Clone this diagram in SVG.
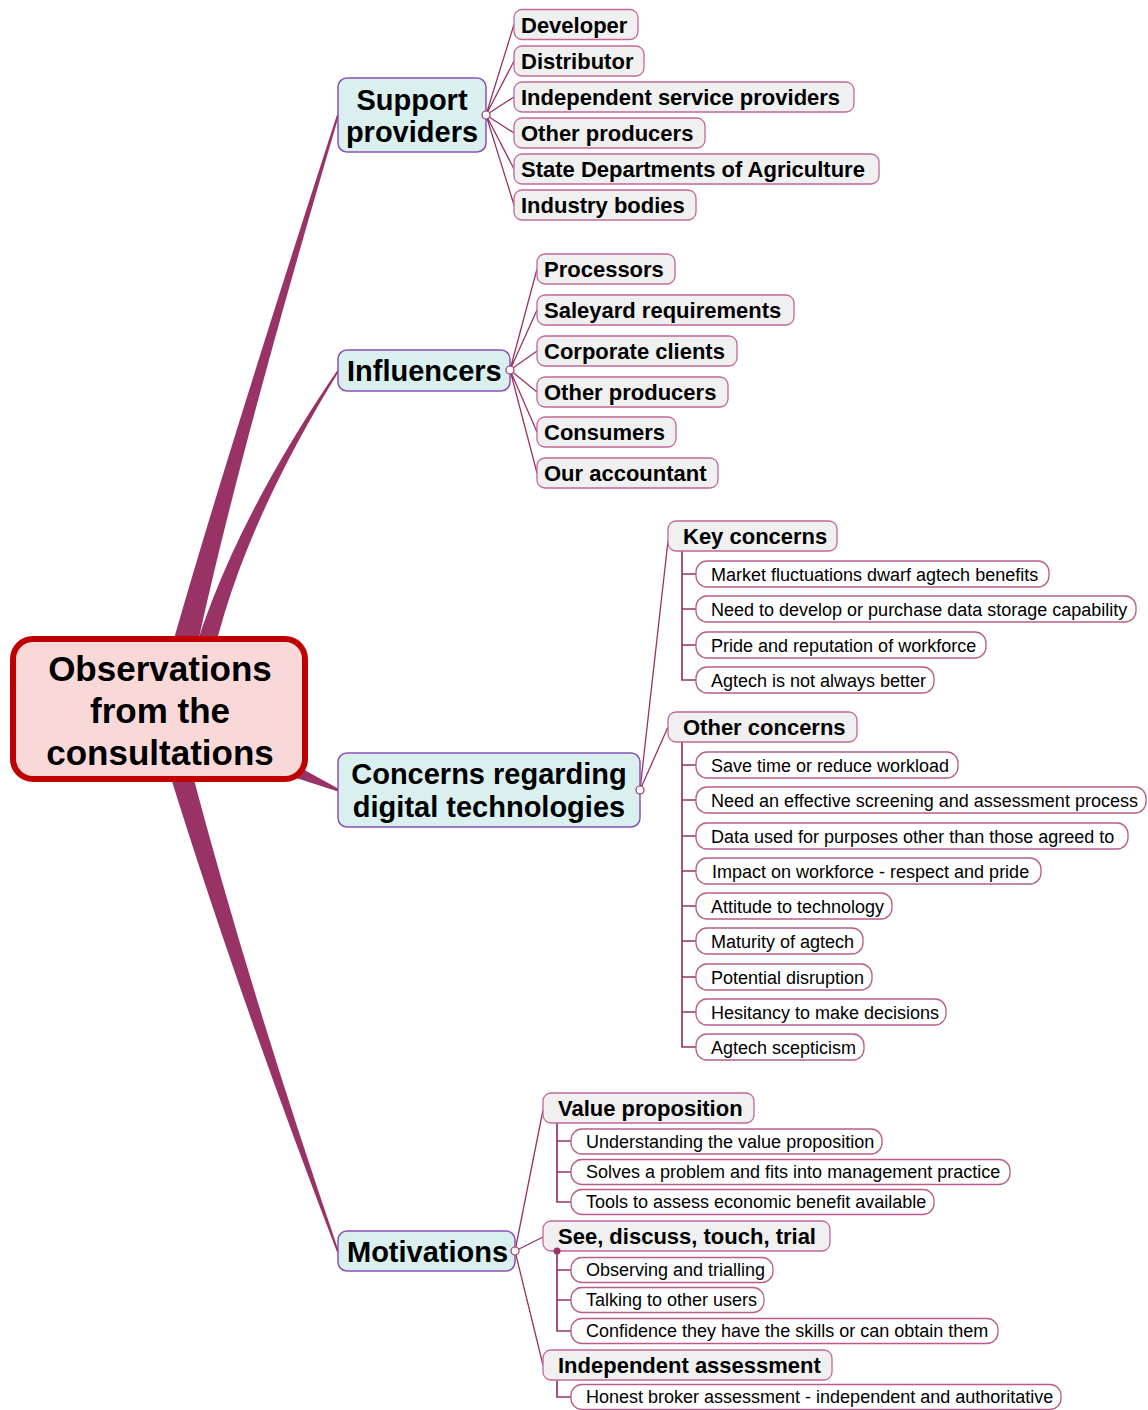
<svg xmlns="http://www.w3.org/2000/svg" width="1148" height="1410" viewBox="0 0 1148 1410">
  <style>
    text { font-family: "Liberation Sans", Arial, sans-serif; fill: #000; }
    .root rect { fill: #f9d9d8; stroke: #c00000; stroke-width: 6; }
    .root text { font-size: 35px; font-weight: bold; text-anchor: middle; }
    .l1 rect { fill: #d9f0ef; stroke: #8a52b4; stroke-width: 1.5; }
    .l1 text { font-size: 29px; font-weight: bold; }
    .l1 text.c { text-anchor: middle; }
    .l2 rect { fill: #f0f0f0; stroke: #c2679a; stroke-width: 1.3; }
    .l2 text { font-size: 22px; font-weight: bold; }
    .l3 rect { fill: #ffffff; stroke: #b85d8a; stroke-width: 1.3; }
    .l3 text { font-size: 18px; }
    .branch { fill: #993366; }
    .link { fill: none; stroke: #993366; stroke-width: 1.3; }
    .tree { fill: none; stroke: #993366; stroke-width: 1.7; }
    .knob { fill: #ffffff; stroke: #993366; stroke-width: 1.2; }
    .dot { fill: #993366; }
  </style>

  <!-- connectors -->
  <g id="connectors">
    <!-- tapered main branches -->
    <path class="branch" d="M167.4,661.9 Q219.2,478.3 337,114.7 L339,115.3 Q230.8,481.7 192.6,668.1 Z"/>
    <path class="branch" d="M184.2,687.8 Q220,542.75 337.2,370.5 L338.8,371.5 Q230,547.25 205.8,692.2 Z"/>
    <path class="branch" d="M290,762 L338,788.5 L338,791.5 L290,776 Z"/>
    <path class="branch" d="M190.6,767 Q248.7,988.1 338.9,1251.7 L337.1,1252.3 Q237.3,991.9 169.4,773 Z"/>

    <!-- Support providers fan -->
    <path class="link" d="M486,115 L514,24.5 M486,115 L514,61 M486,115 L514,97 M486,115 L514,133 M486,115 L514,169 M486,115 L514,205"/>
    <!-- Influencers fan -->
    <path class="link" d="M510,370 L537,269 M510,370 L537,310 M510,370 L537,351 M510,370 L537,392 M510,370 L537,432 M510,370 L537,473"/>
    <!-- Concerns fan -->
    <path class="link" d="M640,790 L668,541 M640,790 L668,727"/>
    <!-- Motivations fan -->
    <path class="link" d="M515,1251 L543,1110 M515,1251 L543,1237 M515,1251 L543,1365"/>

    <!-- sub-topic trees -->
    <path class="tree" d="M682,551 V680 H696 M682,574 H696 M682,609 H696 M682,645 H696"/>
    <path class="tree" d="M682,742 V1047 H696 M682,765 H696 M682,800 H696 M682,836 H696 M682,871 H696 M682,906 H696 M682,941 H696 M682,977 H696 M682,1012 H696"/>
    <path class="tree" d="M557,1123 V1202 H571 M557,1141 H571 M557,1172 H571"/>
    <path class="tree" d="M557,1251 V1331 H571 M557,1270 H571 M557,1300 H571"/>
    <path class="tree" d="M557,1380 V1397 H571"/>
  </g>

  <!-- central topic -->
  <g id="root" class="root">
    <rect x="13" y="639" width="292" height="140" rx="20"/>
    <text x="160" y="681">Observations</text>
    <text x="160" y="723">from the</text>
    <text x="160" y="765">consultations</text>
  </g>

  <!-- main topics -->
  <g id="support" class="l1">
    <rect x="338" y="78" width="148" height="74" rx="9"/>
    <text class="c" x="412" y="110">Support</text>
    <text class="c" x="412" y="142">providers</text>
  </g>
  <g id="influencers" class="l1">
    <rect x="338" y="350" width="172" height="41" rx="9"/>
    <text x="347" y="381">Influencers</text>
  </g>
  <g id="concerns" class="l1">
    <rect x="338" y="753" width="302" height="74" rx="9"/>
    <text class="c" x="489" y="784">Concerns regarding</text>
    <text class="c" x="489" y="817">digital technologies</text>
  </g>
  <g id="motivations" class="l1">
    <rect x="338" y="1231" width="177" height="40" rx="9"/>
    <text x="347" y="1262">Motivations</text>
  </g>

  <!-- support providers -->
  <g id="sp-developer" class="l2"><rect x="514" y="9.5" width="124" height="30" rx="8"/><text x="521" y="33">Developer</text></g>
  <g id="sp-distributor" class="l2"><rect x="514" y="46" width="130" height="30" rx="8"/><text x="521" y="69">Distributor</text></g>
  <g id="sp-isp" class="l2"><rect x="514" y="82" width="340" height="30" rx="8"/><text x="521" y="105">Independent service providers</text></g>
  <g id="sp-other" class="l2"><rect x="514" y="118" width="191" height="30" rx="8"/><text x="521" y="141">Other producers</text></g>
  <g id="sp-state" class="l2"><rect x="514" y="154" width="365" height="30" rx="8"/><text x="521" y="177">State Departments of Agriculture</text></g>
  <g id="sp-industry" class="l2"><rect x="514" y="190" width="182" height="30" rx="8"/><text x="521" y="213">Industry bodies</text></g>

  <!-- influencers -->
  <g id="in-processors" class="l2"><rect x="537" y="254" width="138" height="30" rx="8"/><text x="544" y="277">Processors</text></g>
  <g id="in-saleyard" class="l2"><rect x="537" y="295" width="257" height="30" rx="8"/><text x="544" y="318">Saleyard requirements</text></g>
  <g id="in-corporate" class="l2"><rect x="537" y="336" width="200" height="30" rx="8"/><text x="544" y="359">Corporate clients</text></g>
  <g id="in-other" class="l2"><rect x="537" y="377" width="191" height="30" rx="8"/><text x="544" y="400">Other producers</text></g>
  <g id="in-consumers" class="l2"><rect x="537" y="417" width="139" height="30" rx="8"/><text x="544" y="440">Consumers</text></g>
  <g id="in-accountant" class="l2"><rect x="537" y="458" width="181" height="30" rx="8"/><text x="544" y="481">Our accountant</text></g>

  <!-- concerns -->
  <g id="key-concerns" class="l2"><rect x="668" y="521" width="169" height="30" rx="8"/><text x="683" y="544">Key concerns</text></g>
  <g id="kc-market" class="l3"><rect x="696" y="561" width="353" height="26" rx="11"/><text x="711" y="580.5">Market fluctuations dwarf agtech benefits</text></g>
  <g id="kc-storage" class="l3"><rect x="696" y="596" width="440" height="26" rx="11"/><text x="711" y="615.5">Need to develop or purchase data storage capability</text></g>
  <g id="kc-pride" class="l3"><rect x="696" y="632" width="290" height="26" rx="11"/><text x="711" y="651.5">Pride and reputation of workforce</text></g>
  <g id="kc-better" class="l3"><rect x="696" y="667" width="238" height="26" rx="11"/><text x="711" y="686.5">Agtech is not always better</text></g>

  <g id="other-concerns" class="l2"><rect x="668" y="712" width="189" height="30" rx="8"/><text x="683" y="735">Other concerns</text></g>
  <g id="oc-time" class="l3"><rect x="696" y="752" width="262" height="26" rx="11"/><text x="711" y="771.5">Save time or reduce workload</text></g>
  <g id="oc-screening" class="l3"><rect x="696" y="787" width="450" height="26" rx="11"/><text x="711" y="806.5">Need an effective screening and assessment process</text></g>
  <g id="oc-data" class="l3"><rect x="696" y="823" width="432" height="26" rx="11"/><text x="711" y="842.5">Data used for purposes other than those agreed to</text></g>
  <g id="oc-workforce" class="l3"><rect x="696" y="858" width="345" height="26" rx="11"/><text x="712" y="877.5">Impact on workforce - respect and pride</text></g>
  <g id="oc-attitude" class="l3"><rect x="696" y="893" width="196" height="26" rx="11"/><text x="711" y="912.5">Attitude to technology</text></g>
  <g id="oc-maturity" class="l3"><rect x="696" y="928" width="167" height="26" rx="11"/><text x="711" y="947.5">Maturity of agtech</text></g>
  <g id="oc-disruption" class="l3"><rect x="696" y="964" width="176" height="26" rx="11"/><text x="711" y="983.5">Potential disruption</text></g>
  <g id="oc-hesitancy" class="l3"><rect x="696" y="999" width="250" height="26" rx="11"/><text x="711" y="1018.5">Hesitancy to make decisions</text></g>
  <g id="oc-scepticism" class="l3"><rect x="696" y="1034" width="168" height="26" rx="11"/><text x="711" y="1053.5">Agtech scepticism</text></g>

  <!-- motivations -->
  <g id="value-proposition" class="l2"><rect x="543" y="1093" width="211" height="30" rx="8"/><text x="558" y="1116">Value proposition</text></g>
  <g id="vp-understanding" class="l3"><rect x="571" y="1129" width="311" height="25" rx="11"/><text x="586" y="1147.5">Understanding the value proposition</text></g>
  <g id="vp-solves" class="l3"><rect x="571" y="1159.5" width="439" height="25" rx="11"/><text x="586" y="1178">Solves a problem and fits into management practice</text></g>
  <g id="vp-tools" class="l3"><rect x="571" y="1189.5" width="363" height="25" rx="11"/><text x="586" y="1208">Tools to assess economic benefit available</text></g>

  <g id="see-discuss" class="l2"><rect x="543" y="1221" width="287" height="30" rx="8"/><text x="558" y="1244">See, discuss, touch, trial</text></g>
  <g id="sd-observing" class="l3"><rect x="571" y="1257.5" width="202" height="25" rx="11"/><text x="586" y="1276">Observing and trialling</text></g>
  <g id="sd-talking" class="l3"><rect x="571" y="1287.5" width="193" height="25" rx="11"/><text x="586" y="1306">Talking to other users</text></g>
  <g id="sd-confidence" class="l3"><rect x="571" y="1318.5" width="427" height="25" rx="11"/><text x="586" y="1337">Confidence they have the skills or can obtain them</text></g>

  <g id="independent-assessment" class="l2"><rect x="543" y="1350" width="289" height="30" rx="8"/><text x="558" y="1373">Independent assessment</text></g>
  <g id="ia-honest" class="l3"><rect x="571" y="1384.5" width="490" height="25" rx="11"/><text x="586" y="1403">Honest broker assessment  - independent and authoritative</text></g>

  <!-- branch junction knobs, drawn over the topic borders -->
  <g id="connector-knobs">
    <circle class="knob" cx="486" cy="115" r="4"/>
    <circle class="knob" cx="510" cy="370" r="4"/>
    <circle class="knob" cx="640" cy="790" r="4"/>
    <circle class="knob" cx="515" cy="1251" r="4"/>
    <circle class="dot" cx="557" cy="1251" r="3.5"/>
  </g>
</svg>
